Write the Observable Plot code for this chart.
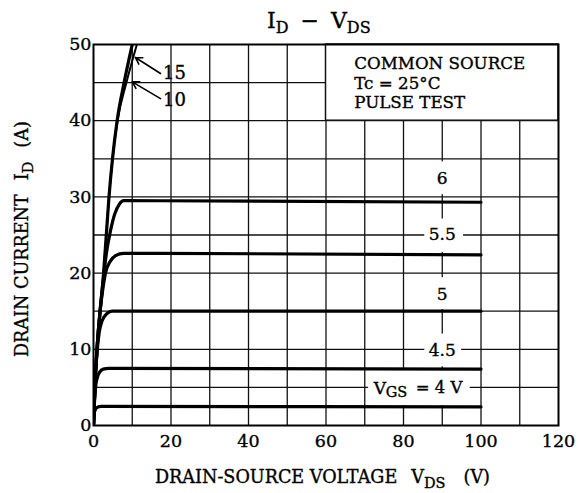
<!DOCTYPE html>
<html><head><meta charset="utf-8">
<script src="https://cdn.jsdelivr.net/npm/d3@7"></script>
<script src="https://cdn.jsdelivr.net/npm/@observablehq/plot@0.6"></script>
<style>
body{margin:0;background:#fff}
svg{font-family:"DejaVu Serif",serif}
svg text{stroke:#000;stroke-width:0.35px}
</style>
</head><body><div id="chart"></div>
<script>
// ---- data (V_DS in volts, I_D in amperes) ----
const vgsLabels = ["15", "10", "6", "5.5", "5", "4.5", "4"];
const vds15 = [0, 0.35, 0.9, 1.7, 2.6, 3.3, 4.0, 4.9, 6.1, 7.9, 10.0];
const id15  = [0, 5, 10, 15, 20, 25, 30, 35, 40, 45, 50];
const vds10 = [0, 0.35, 0.9, 1.7, 2.6, 3.3, 4.0, 4.9, 6.2, 8.5, 11.2];
const id10  = [0, 5, 10, 15, 20, 25, 30, 35, 40, 45, 50];
const vds6  = [0, 0.35, 0.9, 1.7, 2.5, 3.3, 4.4, 5.5, 6.6, 7.8, 100];
const id6   = [0, 5, 10, 15, 19, 22.5, 25.6, 27.8, 29.0, 29.5, 29.3];
const vds55 = [0, 0.35, 0.9, 1.7, 2.3, 3.1, 4.4, 5.7, 7.8, 100];
const id55  = [0, 5, 10, 15, 17.5, 20, 21.6, 22.3, 22.6, 22.4];
const vds5  = [0, 0.35, 0.95, 1.5, 2.2, 3.5, 4.8, 100];
const id5   = [0, 5, 9.8, 12.3, 13.7, 14.7, 15, 15];
const vds45 = [0, 0.3, 0.6, 1.0, 1.6, 2.5, 4.0, 100];
const id45  = [0, 3.5, 5.3, 6.3, 7.0, 7.4, 7.5, 7.4];
const vds4  = [0, 0.15, 0.5, 1.0, 2.0, 100];
const id4   = [0, 1.5, 2.1, 2.4, 2.5, 2.45];

const xTicks = [0, 20, 40, 60, 80, 100, 120];
const yTicks = [0, 10, 20, 30, 40, 50];
const xGrid = [10, 20, 30, 40, 50, 60, 70, 80, 90, 100, 110];
const yGrid = [5, 10, 15, 20, 25, 30, 35, 40, 45];

// curve labels on the right side
const curveLabelText = ["6", "5.5", "5", "4.5"];
const curveLabelV = [90, 90, 90, 90];
const curveLabelI = [32.4, 25.0, 17.2, 9.9];
// white label boxes (data units)
const boxX1 = [85.5, 85.5, 85.5, 85.5, 71];
const boxX2 = [95, 95.5, 95, 95, 97.2];
const boxY1 = [30.3, 22.7, 15.2, 7.7, 2.6];
const boxY2 = [34.6, 27.1, 19.4, 12.0, 7.3];
// arrow labels for 15 and 10
const arrowLabelText = ["15", "10"];
const arrowFromV = [17.3, 17.3];
const arrowFromI = [46.2, 42.9];
const arrowToV = [10.8, 10.0];
const arrowToI = [48.3, 45.1];
const arrowLabelV = [20.9, 20.9];
const arrowLabelI = [46.2, 42.7];
// conditions box
const condText = ["COMMON SOURCE", "Tc = 25°C", "PULSE TEST"];
const condV = [67.3, 67.3, 67.3];
const condI = [47.5, 44.9, 42.4];

// ---- build tables ----
const series = [[vds15, id15], [vds10, id10], [vds6, id6], [vds55, id55], [vds5, id5], [vds45, id45], [vds4, id4]];
const rows = [];
series.forEach(([vs, is], k) => vs.forEach((v, j) => rows.push({g: vgsLabels[k], v, i: is[j]})));
const thickRows = rows.filter(d => d.g !== "10");
const thinRows = rows.filter(d => d.g === "10");
const boxes = boxX1.map((x1, k) => ({x1, x2: boxX2[k], y1: boxY1[k], y2: boxY2[k]}));
const curveLabels = curveLabelText.map((t, k) => ({t, v: curveLabelV[k], i: curveLabelI[k]}));
const arrows = arrowLabelText.map((t, k) => ({t, x1: arrowFromV[k], y1: arrowFromI[k], x2: arrowToV[k], y2: arrowToI[k], lv: arrowLabelV[k], li: arrowLabelI[k]}));
const conds = condText.map((t, k) => ({t, v: condV[k], i: condI[k]}));

const chart = Plot.plot({
  width: 583, height: 493,
  marginLeft: 93, marginRight: 25, marginTop: 44, marginBottom: 68,
  style: {fontFamily: "DejaVu Serif", fontSize: "17px", color: "#000", background: "#fff"},
  x: {domain: [0, 120]},
  y: {domain: [0, 50]},
  marks: [
    Plot.ruleX(xGrid, {stroke: "#111", strokeWidth: 1.3}),
    Plot.ruleY(yGrid, {stroke: "#111", strokeWidth: 1.3}),
    Plot.rect(boxes, {x1: "x1", x2: "x2", y1: "y1", y2: "y2", fill: "#fff"}),
    Plot.rect([0], {x1: () => 60, x2: () => 120, y1: () => 40, y2: () => 50, fill: "#fff", stroke: "#111", strokeWidth: 1.5}),
    Plot.text(conds, {x: "v", y: "i", text: "t", textAnchor: "start", fontSize: 16.7, fill: "#000"}),
    Plot.line(thickRows, {x: "v", y: "i", z: "g", curve: "monotone-x", stroke: "#000", strokeWidth: 3.2, clip: true}),
    Plot.line(thinRows, {x: "v", y: "i", z: "g", curve: "monotone-x", stroke: "#000", strokeWidth: 2, clip: true}),
    Plot.text(curveLabels, {x: "v", y: "i", text: "t", fontSize: 17, fill: "#000"}),
    Plot.arrow(arrows, {x1: "x1", y1: "y1", x2: "x2", y2: "y2", stroke: "#000", strokeWidth: 1.6, headLength: 7, bend: false}),
    Plot.text(arrows, {x: "lv", y: "li", text: "t", fontSize: 18, fill: "#000"}),
    // V_GS = 4 V label
    Plot.text([0], {x: () => 72.3, y: () => 4.9, text: () => "V", textAnchor: "start", fontSize: 17, fill: "#000"}),
    Plot.text([0], {x: () => 72.3, y: () => 4.9, text: () => "GS", textAnchor: "start", dx: 12, dy: 4, fontSize: 14.5, fill: "#000"}),
    Plot.text([0], {x: () => 72.3, y: () => 4.9, text: () => "= 4 V", textAnchor: "start", dx: 42, fontSize: 16.5, fill: "#000"}),
    Plot.frame({stroke: "#000", strokeWidth: 2}),
    Plot.axisX(xTicks, {tickSize: 0, tickPadding: 9, label: null, fontSize: 17.5}),
    Plot.axisY(yTicks, {tickSize: 0, tickPadding: 2, label: null, fontSize: 17.5})
  ]
});

const svg = d3.select(chart);
// title
const t = svg.append("text").attr("x", 267).attr("y", 28).attr("font-size", 22).attr("fill", "#000").attr("text-anchor", "start");
t.append("tspan").text("I");
t.append("tspan").attr("font-size", 16).attr("dy", 5).text("D");
t.append("tspan").attr("dx", 12).attr("dy", -5).text("−");
t.append("tspan").attr("dx", 12).text("V");
t.append("tspan").attr("font-size", 16).attr("dy", 5).text("DS");
// x label
const xl = svg.append("text").attr("x", 155).attr("y", 483).attr("font-size", 17.6).attr("fill", "#000").attr("text-anchor", "start");
xl.append("tspan").text("DRAIN-SOURCE VOLTAGE");
xl.append("tspan").attr("dx", 14).text("V");
xl.append("tspan").attr("font-size", 14.5).attr("dy", 5).text("DS");
xl.append("tspan").attr("dx", 18).attr("dy", -5).text("(V)");
// y label
const yl = svg.append("text").attr("transform", "translate(28,357) rotate(-90)").attr("font-size", 17.6).attr("fill", "#000").attr("text-anchor", "start");
yl.append("tspan").text("DRAIN CURRENT");
yl.append("tspan").attr("dx", 14).text("I");
yl.append("tspan").attr("font-size", 14.5).attr("dy", 5).text("D");
yl.append("tspan").attr("dx", 14).attr("dy", -5).text("(A)");

document.getElementById("chart").appendChild(chart);
</script></body></html>
